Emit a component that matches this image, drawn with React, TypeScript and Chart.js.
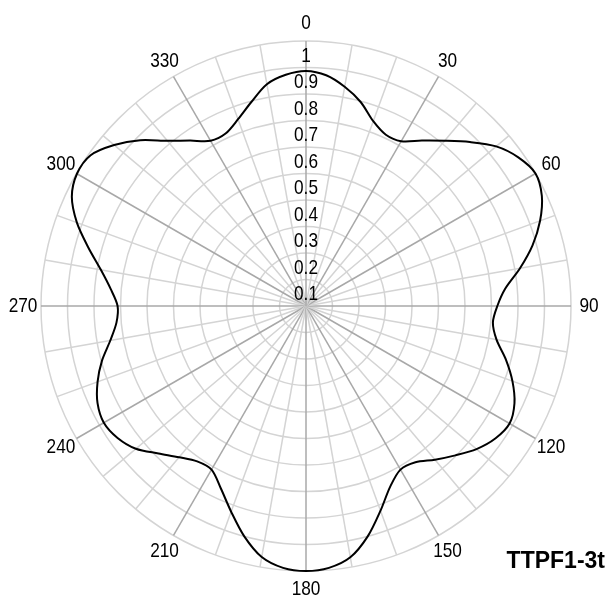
import React, { useEffect, useRef } from 'react';
import { Chart, registerables } from 'chart.js';

Chart.register(...registerables);

// Angles (degrees, clockwise from top) at which the curve is sampled
const angles = [
  0, 5, 10, 15, 20, 25, 30, 35, 40, 45, 50, 55,
  60, 65, 70, 75, 80, 85, 90, 95, 100, 105, 110, 115,
  120, 125, 130, 135, 140, 145, 150, 155, 160, 165, 170, 175,
  180, 185, 190, 195, 200, 205, 210, 215, 220, 225, 230, 235,
  240, 245, 250, 255, 260, 265, 270, 275, 280, 285, 290, 295,
  300, 305, 310, 315, 320, 325, 330, 335, 340, 345, 350, 355,
];

// Relative radiation intensity at each angle
const intensity = [
  0.887, 0.874, 0.84, 0.797, 0.742, 0.713, 0.718, 0.762, 0.814, 0.875, 0.937, 0.978,
  1.0, 0.982, 0.94, 0.885, 0.82, 0.755, 0.722, 0.708, 0.73, 0.781, 0.829, 0.868,
  0.887, 0.872, 0.84, 0.797, 0.757, 0.72, 0.713, 0.752, 0.822, 0.9, 0.963, 0.992,
  1.0, 0.992, 0.962, 0.9, 0.826, 0.76, 0.713, 0.716, 0.745, 0.787, 0.838, 0.868,
  0.881, 0.868, 0.837, 0.797, 0.75, 0.718, 0.711, 0.74, 0.786, 0.85, 0.92, 0.975,
  0.998, 0.992, 0.945, 0.885, 0.814, 0.762, 0.72, 0.718, 0.75, 0.797, 0.85, 0.876,
];

// Angle labels shown around the rim
const angleLabels = [0, 30, 60, 90, 120, 150, 180, 210, 240, 270, 300, 330];
// Minor spokes every 10 degrees
const spokeStep = 10;

// Radial axis
const radialMin = 0;
const radialMax = 1;
const radialStep = 0.1;

const chartTitle = 'TTPF1-3t';

const FONT = '"Liberation Sans", Arial, sans-serif';
const SQUEEZE = 0.82; // emulate a narrow face

function narrowText(ctx: CanvasRenderingContext2D, text: string, x: number, y: number) {
  ctx.save();
  ctx.translate(x, y);
  ctx.scale(SQUEEZE, 1);
  ctx.fillText(text, 0, 0);
  ctx.restore();
}

const decorPlugin = {
  id: 'decor',
  afterDraw(chart: any) {
    const scale = chart.scales.r;
    const ctx: CanvasRenderingContext2D = chart.ctx;
    ctx.save();
    ctx.font = `21px ${FONT}`;
    ctx.fillStyle = '#000';
    ctx.textAlign = 'center';
    ctx.textBaseline = 'middle';
    // rim labels
    angles.forEach((a, i) => {
      if (!angleLabels.includes(a)) return;
      const p = scale.getPointPosition(i, scale.drawingArea + 18);
      narrowText(ctx, String(a), p.x, p.y);
    });
    // radial tick labels along the 0-degree spoke, just inside each ring
    scale.ticks.forEach((t: any) => {
      if (t.value <= radialMin) return;
      const r = scale.getDistanceFromCenterForValue(t.value);
      const label = String(parseFloat(Number(t.value).toFixed(1)));
      narrowText(ctx, label, scale.xCenter, scale.yCenter - r + 15);
    });
    ctx.font = `bold 23px ${FONT}`;
    ctx.textAlign = 'right';
    ctx.textBaseline = 'alphabetic';
    ctx.fillText(chartTitle, 605, 568);
    ctx.restore();
  },
};

export default function App() {
  const ref = useRef<HTMLCanvasElement | null>(null);

  useEffect(() => {
    document.body.style.margin = '0';
    const canvas = ref.current;
    if (!canvas) return;
    const chart = new Chart(canvas, {
      type: 'radar',
      data: {
        labels: angles.map(String),
        datasets: [
          {
            data: intensity,
            borderColor: '#000',
            borderWidth: 2,
            pointRadius: 0,
            fill: false,
            tension: 0.3,
          },
        ],
      },
      options: {
        responsive: false,
        animation: false,
        devicePixelRatio: 1,
        layout: { padding: { left: 41, right: 38, top: 41, bottom: 28 } },
        plugins: {
          legend: { display: false },
          tooltip: { enabled: false },
          title: { display: false },
        },
        scales: {
          r: {
            min: radialMin,
            max: radialMax,
            startAngle: 0,
            ticks: {
              stepSize: radialStep,
              display: false,
            },
            grid: {
              circular: true,
              color: '#d4d4d4',
              lineWidth: 1.5,
            },
            angleLines: {
              display: true,
              color: (ctx: any) => {
                const a = angles[ctx.index];
                if (a % 30 === 0) return '#a8a8a8';
                if (a % spokeStep === 0) return '#d4d4d4';
                return 'rgba(0,0,0,0)';
              },
              lineWidth: (ctx: any) => {
                const a = angles[ctx.index];
                return a % spokeStep === 0 ? 1.5 : 0;
              },
            },
            pointLabels: { display: false },
          },
        },
      },
      plugins: [decorPlugin],
    });
    return () => chart.destroy();
  }, []);

  return (
    <div style={{ position: 'relative', width: 609, height: 599, background: '#fff' }}>
      <canvas ref={ref} width={609} height={599} style={{ display: 'block' }} />
    </div>
  );
}
